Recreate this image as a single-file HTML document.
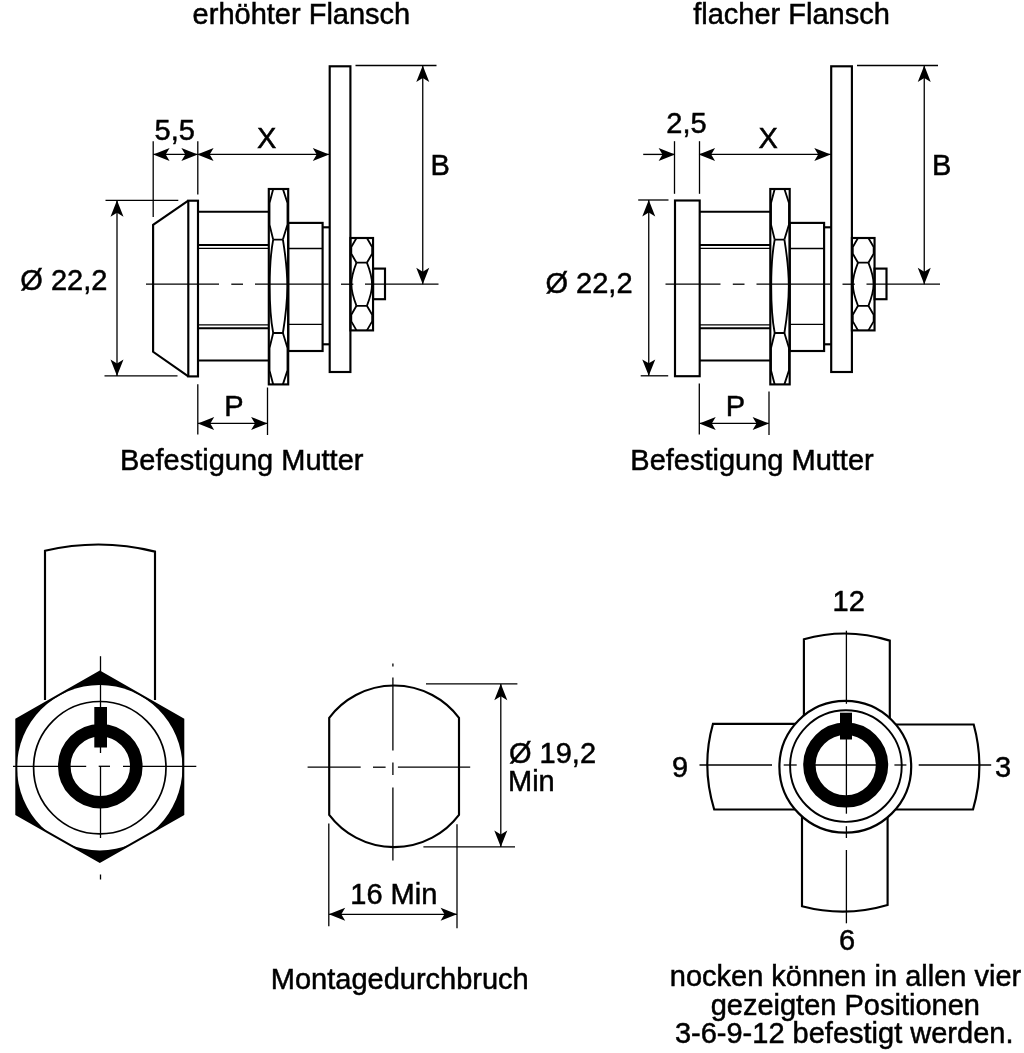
<!DOCTYPE html>
<html><head><meta charset="utf-8"><title>Diagram</title>
<style>
html,body{margin:0;padding:0;background:#fff;}
svg{display:block;filter:grayscale(1);}
text{font-family:"Liberation Sans",sans-serif;fill:#000;stroke:#000;stroke-width:0.5px;}
</style></head>
<body>
<svg width="1024" height="1053" viewBox="0 0 1024 1053">
<rect x="0" y="0" width="1024" height="1053" fill="#fff"/>
<g stroke="#000" fill="none" stroke-linecap="butt" stroke-linejoin="miter">
<line x1="146" y1="284.2" x2="219" y2="284.2" stroke-width="1.3"/>
<line x1="231.3" y1="284.2" x2="243" y2="284.2" stroke-width="1.3"/>
<line x1="255" y1="284.2" x2="328.7" y2="284.2" stroke-width="1.3"/>
<line x1="341" y1="284.2" x2="353.3" y2="284.2" stroke-width="1.3"/>
<line x1="365" y1="284.2" x2="438.5" y2="284.2" stroke-width="1.3"/>
<line x1="198" y1="211.75" x2="268.7" y2="211.75" stroke-width="2.15"/>
<line x1="198" y1="360.5" x2="268.7" y2="360.5" stroke-width="2.15"/>
<line x1="198" y1="245" x2="268.7" y2="245" stroke-width="2.15"/>
<line x1="198" y1="328.2" x2="268.7" y2="328.2" stroke-width="2.15"/>
<line x1="198" y1="248.4" x2="268.7" y2="248.4" stroke-width="1.3"/>
<line x1="198" y1="324.8" x2="268.7" y2="324.8" stroke-width="1.3"/>
<clipPath id="cn0"><rect x="268.8" y="189.0" width="19.399999999999977" height="195.39999999999998"/></clipPath>
<g clip-path="url(#cn0)">
<path d="M273.2,189.0 L269.5,203.0 L269.5,224.6 L273.2,239.6 M282.9,189.0 L287.5,203.0 L287.5,224.6 L282.9,239.6" stroke-width="1.85" fill="none" stroke-linejoin="round"/>
<path d="M273.2,239.6 Q269.7,257.6 269.7,286.3 Q269.7,315.0 273.2,333.0 M282.9,239.6 Q287.3,266.6 287.3,286.3 Q287.3,306.0 282.9,333.0" stroke-width="1.85" fill="none" />
<path d="M273.2,333.0 L269.5,348.0 L269.5,370.4 L273.2,384.4 M282.9,333.0 L287.5,348.0 L287.5,370.4 L282.9,384.4" stroke-width="1.85" fill="none" stroke-linejoin="round"/>
<line x1="273.2" y1="239.6" x2="282.9" y2="239.6" stroke-width="1.85"/>
<line x1="273.2" y1="333.0" x2="282.9" y2="333.0" stroke-width="1.85"/>
</g>
<rect x="268.8" y="189.0" width="19.4" height="195.4" stroke-width="2.15" fill="none"/>
<rect x="288.2" y="222.9" width="34.4" height="128.1" stroke-width="2.15" fill="none"/>
<line x1="288.2" y1="248.5" x2="322.6" y2="248.5" stroke-width="1.3"/>
<line x1="288.2" y1="324.4" x2="322.6" y2="324.4" stroke-width="1.3"/>
<line x1="322.6" y1="227.3" x2="329.7" y2="227.3" stroke-width="2.15"/>
<line x1="322.6" y1="344.3" x2="329.7" y2="344.3" stroke-width="2.15"/>
<rect x="329.7" y="66.3" width="20.7" height="305.7" stroke-width="2.15" fill="none"/>
<clipPath id="cs0"><rect x="350.4" y="238.0" width="22.650000000000034" height="92.39999999999998"/></clipPath>
<g clip-path="url(#cs0)">
<path d="M356.5,238.0 L351.3,247.0 L351.3,253.7 L356.5,262.7 M366.9,238.0 L372.15,247.0 L372.15,253.7 L366.9,262.7" stroke-width="1.8" fill="none" stroke-linejoin="round"/>
<path d="M356.5,262.7 Q351.4,275.7 351.4,284.25 Q351.4,292.8 356.5,305.8 M366.9,262.7 Q372.05,275.7 372.05,284.25 Q372.05,292.8 366.9,305.8" stroke-width="1.8" fill="none" />
<path d="M356.5,305.8 L351.3,314.8 L351.3,321.4 L356.5,330.4 M366.9,305.8 L372.15,314.8 L372.15,321.4 L366.9,330.4" stroke-width="1.8" fill="none" stroke-linejoin="round"/>
<line x1="356.5" y1="262.7" x2="366.9" y2="262.7" stroke-width="1.8"/>
<line x1="356.5" y1="305.8" x2="366.9" y2="305.8" stroke-width="1.8"/>
</g>
<rect x="350.4" y="238.0" width="22.65" height="92.4" stroke-width="2.15" fill="none"/>
<rect x="373.05" y="268.6" width="11.95" height="30.6" stroke-width="2.15" fill="none"/>
<line x1="198" y1="154.4" x2="329.5" y2="154.4" stroke-width="1.35"/>
<polygon points="197.20,154.40 213.60,147.90 209.70,154.40 213.60,160.90" fill="#000" stroke="none"/>
<polygon points="329.20,154.40 312.80,160.90 316.70,154.40 312.80,147.90" fill="#000" stroke="none"/>
<text x="257.0" y="147.5" font-size="29" text-anchor="start">X</text>
<line x1="355.5" y1="65.5" x2="436.5" y2="65.5" stroke-width="1.3"/>
<line x1="422.75" y1="66" x2="422.75" y2="284.2" stroke-width="1.3"/>
<polygon points="422.75,65.50 429.25,81.90 422.75,78.00 416.25,81.90" fill="#000" stroke="none"/>
<polygon points="422.75,284.20 416.25,267.80 422.75,271.70 429.25,267.80" fill="#000" stroke="none"/>
<text x="430.5" y="174.5" font-size="29" text-anchor="start">B</text>
<line x1="197.8" y1="384.2" x2="197.8" y2="434.5" stroke-width="1.3"/>
<line x1="267.5" y1="387.5" x2="267.5" y2="435" stroke-width="1.3"/>
<line x1="198" y1="423.4" x2="267.3" y2="423.4" stroke-width="1.35"/>
<polygon points="197.80,423.40 214.20,416.90 210.30,423.40 214.20,429.90" fill="#000" stroke="none"/>
<polygon points="267.50,423.40 251.10,429.90 255.00,423.40 251.10,416.90" fill="#000" stroke="none"/>
<text x="224.3" y="416" font-size="29" text-anchor="start">P</text>
<path d="M188.3,200.7 L153.1,224.8 L153.1,351.8 L188.3,376.4" stroke-width="2.15" fill="none" />
<rect x="188.3" y="200.7" width="9.7" height="175.7" stroke-width="2.15" fill="none"/>
<line x1="153.2" y1="141.2" x2="153.2" y2="217" stroke-width="1.3"/>
<line x1="197.8" y1="141.2" x2="197.8" y2="194.5" stroke-width="1.3"/>
<line x1="153.2" y1="154.4" x2="197.8" y2="154.4" stroke-width="1.35"/>
<polygon points="153.20,154.40 169.60,147.90 165.70,154.40 169.60,160.90" fill="#000" stroke="none"/>
<polygon points="197.80,154.40 181.40,160.90 185.30,154.40 181.40,147.90" fill="#000" stroke="none"/>
<line x1="105.5" y1="200.3" x2="178.3" y2="200.3" stroke-width="1.3"/>
<line x1="104.5" y1="375.9" x2="177.5" y2="375.9" stroke-width="1.3"/>
<line x1="117" y1="200.3" x2="117" y2="375.9" stroke-width="1.3"/>
<polygon points="117.00,200.30 123.50,216.70 117.00,212.80 110.50,216.70" fill="#000" stroke="none"/>
<polygon points="117.00,375.90 110.50,359.50 117.00,363.40 123.50,359.50" fill="#000" stroke="none"/>
<line x1="665.5" y1="284.2" x2="720.5" y2="284.2" stroke-width="1.3"/>
<line x1="732.8" y1="284.2" x2="744.5" y2="284.2" stroke-width="1.3"/>
<line x1="756.5" y1="284.2" x2="830.2" y2="284.2" stroke-width="1.3"/>
<line x1="842.5" y1="284.2" x2="854.8" y2="284.2" stroke-width="1.3"/>
<line x1="866.5" y1="284.2" x2="940.0" y2="284.2" stroke-width="1.3"/>
<line x1="699.5" y1="211.75" x2="770.2" y2="211.75" stroke-width="2.15"/>
<line x1="699.5" y1="360.5" x2="770.2" y2="360.5" stroke-width="2.15"/>
<line x1="699.5" y1="245" x2="770.2" y2="245" stroke-width="2.15"/>
<line x1="699.5" y1="328.2" x2="770.2" y2="328.2" stroke-width="2.15"/>
<line x1="699.5" y1="248.4" x2="770.2" y2="248.4" stroke-width="1.3"/>
<line x1="699.5" y1="324.8" x2="770.2" y2="324.8" stroke-width="1.3"/>
<clipPath id="cn501"><rect x="770.3" y="189.0" width="19.399999999999977" height="195.39999999999998"/></clipPath>
<g clip-path="url(#cn501)">
<path d="M774.7,189.0 L771.0,203.0 L771.0,224.6 L774.7,239.6 M784.4,189.0 L789.0,203.0 L789.0,224.6 L784.4,239.6" stroke-width="1.85" fill="none" stroke-linejoin="round"/>
<path d="M774.7,239.6 Q771.2,257.6 771.2,286.3 Q771.2,315.0 774.7,333.0 M784.4,239.6 Q788.8,266.6 788.8,286.3 Q788.8,306.0 784.4,333.0" stroke-width="1.85" fill="none" />
<path d="M774.7,333.0 L771.0,348.0 L771.0,370.4 L774.7,384.4 M784.4,333.0 L789.0,348.0 L789.0,370.4 L784.4,384.4" stroke-width="1.85" fill="none" stroke-linejoin="round"/>
<line x1="774.7" y1="239.6" x2="784.4" y2="239.6" stroke-width="1.85"/>
<line x1="774.7" y1="333.0" x2="784.4" y2="333.0" stroke-width="1.85"/>
</g>
<rect x="770.3" y="189.0" width="19.4" height="195.4" stroke-width="2.15" fill="none"/>
<rect x="789.7" y="222.9" width="34.4" height="128.1" stroke-width="2.15" fill="none"/>
<line x1="789.7" y1="248.5" x2="824.1" y2="248.5" stroke-width="1.3"/>
<line x1="789.7" y1="324.4" x2="824.1" y2="324.4" stroke-width="1.3"/>
<line x1="824.1" y1="227.3" x2="831.2" y2="227.3" stroke-width="2.15"/>
<line x1="824.1" y1="344.3" x2="831.2" y2="344.3" stroke-width="2.15"/>
<rect x="831.2" y="66.3" width="20.7" height="305.7" stroke-width="2.15" fill="none"/>
<clipPath id="cs501"><rect x="851.9" y="238.0" width="22.650000000000034" height="92.39999999999998"/></clipPath>
<g clip-path="url(#cs501)">
<path d="M858.0,238.0 L852.8,247.0 L852.8,253.7 L858.0,262.7 M868.4,238.0 L873.65,247.0 L873.65,253.7 L868.4,262.7" stroke-width="1.8" fill="none" stroke-linejoin="round"/>
<path d="M858.0,262.7 Q852.9,275.7 852.9,284.25 Q852.9,292.8 858.0,305.8 M868.4,262.7 Q873.55,275.7 873.55,284.25 Q873.55,292.8 868.4,305.8" stroke-width="1.8" fill="none" />
<path d="M858.0,305.8 L852.8,314.8 L852.8,321.4 L858.0,330.4 M868.4,305.8 L873.65,314.8 L873.65,321.4 L868.4,330.4" stroke-width="1.8" fill="none" stroke-linejoin="round"/>
<line x1="858.0" y1="262.7" x2="868.4" y2="262.7" stroke-width="1.8"/>
<line x1="858.0" y1="305.8" x2="868.4" y2="305.8" stroke-width="1.8"/>
</g>
<rect x="851.9" y="238.0" width="22.65" height="92.4" stroke-width="2.15" fill="none"/>
<rect x="874.55" y="268.6" width="11.95" height="30.6" stroke-width="2.15" fill="none"/>
<line x1="699.5" y1="154.4" x2="831.0" y2="154.4" stroke-width="1.35"/>
<polygon points="698.70,154.40 715.10,147.90 711.20,154.40 715.10,160.90" fill="#000" stroke="none"/>
<polygon points="830.70,154.40 814.30,160.90 818.20,154.40 814.30,147.90" fill="#000" stroke="none"/>
<text x="758.5" y="147.5" font-size="29" text-anchor="start">X</text>
<line x1="857.0" y1="65.5" x2="938.0" y2="65.5" stroke-width="1.3"/>
<line x1="924.25" y1="66" x2="924.25" y2="284.2" stroke-width="1.3"/>
<polygon points="924.25,65.50 930.75,81.90 924.25,78.00 917.75,81.90" fill="#000" stroke="none"/>
<polygon points="924.25,284.20 917.75,267.80 924.25,271.70 930.75,267.80" fill="#000" stroke="none"/>
<text x="932.0" y="174.5" font-size="29" text-anchor="start">B</text>
<line x1="699.3" y1="383.5" x2="699.3" y2="434.5" stroke-width="1.3"/>
<line x1="769.0" y1="391.4" x2="769.0" y2="435" stroke-width="1.3"/>
<line x1="699.5" y1="423.4" x2="768.8" y2="423.4" stroke-width="1.35"/>
<polygon points="699.30,423.40 715.70,416.90 711.80,423.40 715.70,429.90" fill="#000" stroke="none"/>
<polygon points="769.00,423.40 752.60,429.90 756.50,423.40 752.60,416.90" fill="#000" stroke="none"/>
<text x="725.8" y="416" font-size="29" text-anchor="start">P</text>
<rect x="675" y="200.5" width="24.7" height="175.7" stroke-width="2.15" fill="none"/>
<line x1="674.5" y1="141.2" x2="674.5" y2="193.8" stroke-width="1.3"/>
<line x1="699.5" y1="141.2" x2="699.5" y2="193.8" stroke-width="1.3"/>
<line x1="643.2" y1="154.4" x2="674.5" y2="154.4" stroke-width="1.35"/>
<polygon points="675.00,154.40 658.60,160.90 662.50,154.40 658.60,147.90" fill="#000" stroke="none"/>
<line x1="638.2" y1="200" x2="668.5" y2="200" stroke-width="1.3"/>
<line x1="640.7" y1="375.8" x2="668.2" y2="375.8" stroke-width="1.3"/>
<line x1="648.75" y1="200" x2="648.75" y2="375.8" stroke-width="1.3"/>
<polygon points="648.75,200.00 655.25,216.40 648.75,212.50 642.25,216.40" fill="#000" stroke="none"/>
<polygon points="648.75,375.80 642.25,359.40 648.75,363.30 655.25,359.40" fill="#000" stroke="none"/>
<path d="M45,700 L45,550.8 Q100,537.8 155,551.6 L155,700" stroke-width="2.15" fill="none" />
<polygon points="99.80,671.65 183.30,719.22 183.30,814.38 99.80,861.95 16.30,814.38 16.30,719.22" fill="#000" stroke="none"/>
<circle cx="99.75" cy="767.7" r="82.7" fill="#fff" stroke="none"/>
<polygon points="99.80,671.65 183.30,719.22 183.30,814.38 99.80,861.95 16.30,814.38 16.30,719.22" fill="none" stroke-width="2"/>
<circle cx="99.80000000000001" cy="767.6999999999999" r="66.2" stroke-width="1.7"/>
<circle cx="100.30000000000001" cy="766.1999999999999" r="36" stroke-width="12.6"/>
<line x1="13" y1="766.3" x2="86.2" y2="766.3" stroke-width="1.3"/>
<line x1="98.7" y1="766.3" x2="110" y2="766.3" stroke-width="1.3"/>
<line x1="123" y1="766.3" x2="196.3" y2="766.3" stroke-width="1.3"/>
<line x1="100.5" y1="656.2" x2="100.5" y2="753" stroke-width="1.3"/>
<line x1="100.5" y1="766" x2="100.5" y2="838" stroke-width="1.3"/>
<line x1="100.5" y1="874.5" x2="100.5" y2="879.5" stroke-width="1.3"/>
<rect x="94.3" y="707" width="12.7" height="40.5" stroke-width="0" fill="#000"/>
<path d="M329.2,717.8 A81.4,81.4 0 0 1 459,717.8 L459,814.8 A81.4,81.4 0 0 1 329.2,814.8 Z" stroke-width="2.15" fill="none" />
<line x1="307.6" y1="767.2" x2="360.7" y2="767.2" stroke-width="1.3"/>
<line x1="373" y1="767.2" x2="385.6" y2="767.2" stroke-width="1.3"/>
<line x1="397.9" y1="767.2" x2="470.2" y2="767.2" stroke-width="1.3"/>
<line x1="392.9" y1="663.6" x2="392.9" y2="666.6" stroke-width="1.3"/>
<line x1="392.9" y1="677.6" x2="392.9" y2="750.4" stroke-width="1.3"/>
<line x1="392.9" y1="762.6" x2="392.9" y2="775" stroke-width="1.3"/>
<line x1="392.9" y1="787.4" x2="392.9" y2="860.4" stroke-width="1.3"/>
<line x1="426" y1="683.8" x2="517.4" y2="683.8" stroke-width="1.3"/>
<line x1="423.4" y1="846.9" x2="515" y2="846.9" stroke-width="1.3"/>
<line x1="500.8" y1="684" x2="500.8" y2="846.9" stroke-width="1.3"/>
<polygon points="500.80,683.80 507.30,700.20 500.80,696.30 494.30,700.20" fill="#000" stroke="none"/>
<polygon points="500.80,846.90 494.30,830.50 500.80,834.40 507.30,830.50" fill="#000" stroke="none"/>
<line x1="328.8" y1="823.6" x2="328.8" y2="926.2" stroke-width="1.3"/>
<line x1="457" y1="824.3" x2="457" y2="928.2" stroke-width="1.3"/>
<line x1="329" y1="914.3" x2="457" y2="914.3" stroke-width="1.35"/>
<polygon points="328.80,914.30 345.20,907.80 341.30,914.30 345.20,920.80" fill="#000" stroke="none"/>
<polygon points="457.00,914.30 440.60,920.80 444.50,914.30 440.60,907.80" fill="#000" stroke="none"/>
<path d="M803.9,730 L803.9,639.3 Q846.4,627 889.8,640.6 L889.8,730" stroke-width="2.15" fill="none" />
<path d="M802,805 L802,906.2 Q845,917.6 887.6,905 L887.6,805" stroke-width="2.15" fill="none" />
<path d="M806,723.8 L713,723.8 Q701,766 714.2,809.5 L806,809.5" stroke-width="2.15" fill="none" />
<path d="M885,724.5 L973.7,724.5 Q985.4,767 973,809.5 L885,809.5" stroke-width="2.15" fill="none" />
<circle cx="845.3" cy="766.8" r="65.9" fill="#fff" stroke-width="2.2"/>
<circle cx="845.9" cy="766.1" r="55.8" stroke-width="1.95"/>
<circle cx="845.7" cy="765.1" r="36.3" stroke-width="12.4"/>
<line x1="699.5" y1="765" x2="772" y2="765" stroke-width="1.3"/>
<line x1="783.7" y1="765" x2="796.7" y2="765" stroke-width="1.3"/>
<line x1="809" y1="765" x2="882" y2="765" stroke-width="1.3"/>
<line x1="894.4" y1="765" x2="906.4" y2="765" stroke-width="1.3"/>
<line x1="918.7" y1="765" x2="991.2" y2="765" stroke-width="1.3"/>
<line x1="846.4" y1="630.7" x2="846.4" y2="703.8" stroke-width="1.3"/>
<line x1="846.4" y1="739" x2="846.4" y2="813.7" stroke-width="1.3"/>
<line x1="846.4" y1="826.2" x2="846.4" y2="838" stroke-width="1.3"/>
<line x1="846.4" y1="850" x2="846.4" y2="923.3" stroke-width="1.3"/>
<rect x="840" y="712.7" width="12" height="26.8" stroke-width="0" fill="#000"/>
</g>
<g fill="#000" opacity="0.999" font-family="'Liberation Sans', sans-serif">
<text x="192.6" y="24.1" font-size="29" text-anchor="start">erhöhter Flansch</text>
<text x="693.2" y="24.1" font-size="29" text-anchor="start">flacher Flansch</text>
<text x="120.0" y="470.1" font-size="29" text-anchor="start">Befestigung Mutter</text>
<text x="630.3" y="470.3" font-size="29" text-anchor="start">Befestigung Mutter</text>
<text x="20.3" y="290" font-size="29" text-anchor="start">Ø 22,2</text>
<text x="545.5" y="292.5" font-size="29" text-anchor="start">Ø 22,2</text>
<text x="154.5" y="140.1" font-size="29" text-anchor="start">5,5</text>
<text x="666.3" y="133.3" font-size="29" text-anchor="start">2,5</text>
<text x="270.8" y="988.8" font-size="29" text-anchor="start">Montagedurchbruch</text>
<text x="350.3" y="904.2" font-size="29" text-anchor="start">16 Min</text>
<text x="509" y="762.8" font-size="29" text-anchor="start">Ø 19,2</text>
<text x="508" y="791.3" font-size="29" text-anchor="start">Min</text>
<text x="832.5" y="610.8" font-size="29" text-anchor="start">12</text>
<text x="839" y="950" font-size="29" text-anchor="start">6</text>
<text x="672" y="777.2" font-size="29" text-anchor="start">9</text>
<text x="995" y="777.2" font-size="29" text-anchor="start">3</text>
<text x="845.5" y="985.9" font-size="29" text-anchor="middle">nocken können in allen vier</text>
<text x="845.3" y="1014.6" font-size="29" text-anchor="middle">gezeigten Positionen</text>
<text x="844.2" y="1043.2" font-size="29" text-anchor="middle">3-6-9-12 befestigt werden.</text>
</g>
</svg>
</body></html>
